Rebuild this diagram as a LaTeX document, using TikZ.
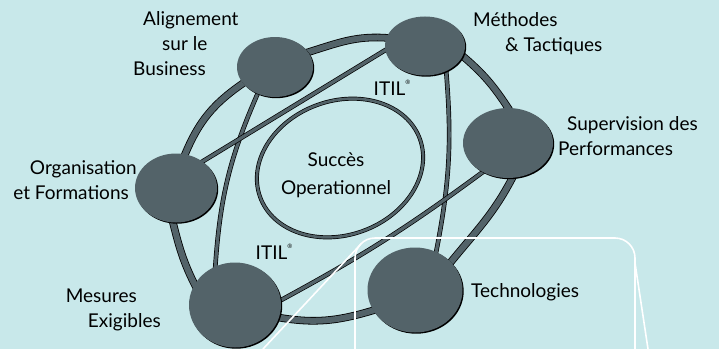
\documentclass[tikz,border=0pt]{standalone}
\usepackage{fontspec}
\setmainfont{Lato}
\usetikzlibrary{shapes.geometric,shadows,backgrounds}
\definecolor{fond}{RGB}{200,232,234}
\definecolor{gris}{RGB}{83,99,105}
\newcommand{\itil}{ITIL\raisebox{0.55em}{\fontsize{6}{6}\selectfont ®}}

\begin{document}
\begin{tikzpicture}[x=1pt,y=1pt]

% définition des styles
\tikzstyle{pastille}=[ellipse,fill=gris,inner sep=0pt,drop shadow={shadow xshift=1.2pt,shadow yshift=-1.2pt,fill=black,opacity=1}]
\tikzstyle{anneau}=[draw=black,line width=0.8pt,double=gris,double distance=6pt,shorten <=-4pt,shorten >=-4pt]
\tikzstyle{lien}=[draw=black,line width=0.7pt,double=gris,double distance=3.2pt,shorten <=-4pt,shorten >=-4pt]
\tikzstyle{coeur}=[draw=black,line width=0.7pt,double=gris,double distance=2.6pt]
\tikzstyle{etiquette}=[inner sep=0pt,font=\fontsize{19}{25}\selectfont]
\tikzstyle{cadre}=[white,line width=1.6pt]

\useasboundingbox (0,0) rectangle (719,349);

% les pastilles
\node [pastille,minimum width=76pt,minimum height=60pt] (alig) at (275,282) {};
\node [pastille,minimum width=80pt,minimum height=59pt] (meth) at (425,303) {};
\node [pastille,minimum width=90pt,minimum height=70pt] (sup) at (508,206) {};
\node [pastille,minimum width=82pt,minimum height=69pt] (org) at (176,161) {};
\node [pastille,minimum width=92pt,minimum height=85pt] (mes) at (235,44) {};
\node [pastille,minimum width=95pt,minimum height=85pt] (tech) at (415,59) {};

% les textes (ancre = ligne du bas)
\node [etiquette,align=left,anchor=base west] (t-alig) at (133,274) {\hspace*{10pt}Alignement\\\hspace*{29pt}sur le\\Business};
\node [etiquette,align=left,anchor=base west] (t-meth) at (473,298) {Méthodes\\\hspace*{32pt}\& Tactiques};
\node [etiquette,align=left,anchor=base west] (t-sup) at (558,194) {\hspace*{9pt}Supervision des\\Performances};
\node [etiquette,align=right,anchor=base east] (t-org) at (137,150) {Organisation\\et Formations\hspace*{8pt}};
\node [etiquette,align=right,anchor=base east] (t-mes) at (161,22) {Mesures\hspace*{24pt}\\Exigibles};
\node [etiquette,anchor=base west] (t-tech) at (471,52) {Technologies};
\node [etiquette,align=center,anchor=base,font=\fontsize{19}{28}\selectfont] (succes) at (336,155) {Succès\\Operationnel};
\node [etiquette,anchor=base] (itil1) at (392,254) {\itil};
\node [etiquette,anchor=base] (itil2) at (274,90) {\itil};

% les liens
\begin{pgfonlayer}{background}
\fill[fond] (0,0) rectangle (719,349);
% l'anneau exterieur
\draw[anneau] (org.75) to[out=68,in=214] (alig.207);
\draw[anneau] (alig.24) to[out=17,in=175] (meth.168);
\draw[anneau] (meth.345) to[out=-40,in=123] (sup.90);
\draw[anneau] (sup.277) to[out=243,in=51] (tech.38);
\draw[anneau] (tech.206) to[out=197,in=350] (mes.344);
\draw[anneau] (mes.153) to[out=117,in=284] (org.265);
% les traverses
\draw[lien] (alig.237) to[bend right=10] (mes.117);
\draw[lien] (org.45) to (meth.186);
\draw[lien] (meth.310) to[bend left=8] (tech.61);
\draw[lien] (sup.229) to[bend left=4] (mes.6);
\draw[coeur] (340,181) ellipse [x radius=85, y radius=67, rotate=20];
\end{pgfonlayer}

% le cadre blanc
\draw[cadre,rounded corners=20pt] (355,0) -- (355,111) -- (635,111) -- (635,0);
\draw[cadre] (263,0) -- (361,105);
\draw[cadre] (635,86) -- (648,0);

\end{tikzpicture}
\end{document}
